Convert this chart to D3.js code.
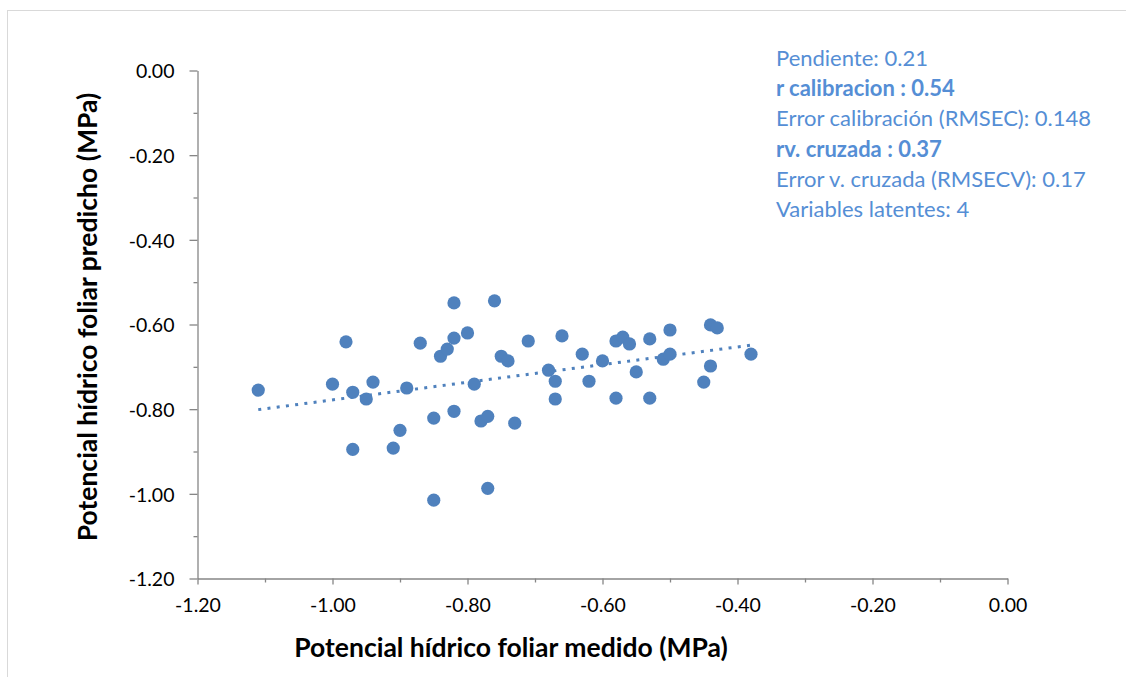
<!DOCTYPE html>
<html>
<head>
<meta charset="utf-8">
<script src="https://cdn.jsdelivr.net/npm/d3@7"></script>
<style>
  html, body { margin: 0; padding: 0; background: #fff; }
  svg { display: block; }
  text { font-family: Lato, "Open Sans", sans-serif; }
</style>
</head>
<body>
<svg id="chart" width="1126" height="677"></svg>
<script>
// Measured vs. PLS-predicted leaf water potential (MPa)
const measured = [-1.11, -1.00, -0.98, -0.97, -0.97, -0.95, -0.94, -0.91, -0.90, -0.89,
                  -0.87, -0.85, -0.85, -0.84, -0.83, -0.82, -0.82, -0.82, -0.80, -0.79,
                  -0.78, -0.77, -0.77, -0.76, -0.75, -0.74, -0.73, -0.71, -0.68, -0.67,
                  -0.67, -0.66, -0.63, -0.62, -0.60, -0.58, -0.58, -0.57, -0.56, -0.55,
                  -0.53, -0.53, -0.51, -0.50, -0.50, -0.45, -0.44, -0.44, -0.43, -0.38];
const predicted = [-0.755, -0.741, -0.641, -0.760, -0.895, -0.776, -0.736, -0.892, -0.850, -0.750,
                   -0.644, -0.821, -1.015, -0.675, -0.658, -0.549, -0.632, -0.805, -0.620, -0.741,
                   -0.828, -0.817, -0.987, -0.544, -0.675, -0.686, -0.833, -0.639, -0.708, -0.734,
                   -0.776, -0.627, -0.670, -0.734, -0.686, -0.639, -0.774, -0.630, -0.646, -0.712,
                   -0.634, -0.774, -0.682, -0.670, -0.613, -0.736, -0.698, -0.601, -0.608, -0.670];

const majorTicks = [-1.2, -1.0, -0.8, -0.6, -0.4, -0.2, 0.0];
const minorTicks = [-1.1, -0.9, -0.7, -0.5, -0.3, -0.1];
const tickLabels = ["-1.20", "-1.00", "-0.80", "-0.60", "-0.40", "-0.20", "0.00"];

const xTitle = "Potencial hídrico foliar medido (MPa)";
const yTitle = "Potencial hídrico foliar predicho (MPa)";

const statsLines = [
  { text: "Pendiente: 0.21", bold: false },
  { text: "r calibracion : 0.54", bold: true },
  { text: "Error calibración (RMSEC): 0.148", bold: false },
  { text: "rv. cruzada : 0.37", bold: true },
  { text: "Error v. cruzada (RMSECV): 0.17", bold: false },
  { text: "Variables latentes: 4", bold: false }
];

const pointColor = "#4f81bd";
const statsColor = "#558ed5";
const axisColor = "#868686";

const svg = d3.select("#chart");

// chart-area frame
svg.append("rect")
  .attr("x", 7.5).attr("y", 10.5)
  .attr("width", 1200).attr("height", 800)
  .attr("fill", "none").attr("stroke", "#d9d9d9").attr("stroke-width", 1);

const x = d3.scaleLinear().domain([-1.2, 0]).range([197.5, 1007.5]);
const y = d3.scaleLinear().domain([-1.2, 0]).range([578.5, 70.5]);

const labelOf = v => tickLabels[majorTicks.findIndex(t => Math.abs(t - v) < 1e-9)];

// x axis: minor ticks first, then major ticks with labels
const xAxisG = svg.append("g").attr("transform", `translate(0,${y(-1.2)})`);
xAxisG.call(d3.axisBottom(x).tickValues(minorTicks).tickSize(4).tickFormat(""));
xAxisG.call(g => g.select(".domain").remove());
const xMajor = svg.append("g").attr("transform", `translate(0,${y(-1.2)})`)
  .call(d3.axisBottom(x).tickValues(majorTicks).tickSize(6).tickSizeOuter(0).tickFormat(labelOf).tickPadding(14));

// y axis
const yAxisG = svg.append("g").attr("transform", `translate(${x(-1.2)},0)`);
yAxisG.call(d3.axisLeft(y).tickValues(minorTicks).tickSize(4).tickFormat(""));
yAxisG.call(g => g.select(".domain").remove());
const yMajor = svg.append("g").attr("transform", `translate(${x(-1.2)},0)`)
  .call(d3.axisLeft(y).tickValues(majorTicks).tickSize(8).tickSizeOuter(0).tickFormat(labelOf).tickPadding(15));

svg.selectAll(".domain, .tick line")
  .attr("stroke", axisColor).attr("stroke-width", 1.3);
svg.selectAll(".tick text")
  .attr("fill", "#000").style("font-size", "19.5px").style("font-family", "Lato, sans-serif");
yMajor.selectAll(".tick text").attr("dy", "0.38em");

// least-squares trend line over the measured range
const n = measured.length;
const mx = d3.mean(measured), my = d3.mean(predicted);
let sxy = 0, sxx = 0;
for (let i = 0; i < n; i++) {
  sxy += (measured[i] - mx) * (predicted[i] - my);
  sxx += (measured[i] - mx) ** 2;
}
const slope = sxy / sxx, intercept = my - slope * mx;
const [x0, x1] = d3.extent(measured);
svg.append("line")
  .attr("x1", x(x0)).attr("y1", y(intercept + slope * x0))
  .attr("x2", x(x1)).attr("y2", y(intercept + slope * x1))
  .attr("stroke", pointColor).attr("stroke-width", 3)
  .attr("stroke-dasharray", "3,6.3");

// data points
svg.append("g").selectAll("circle")
  .data(d3.range(n))
  .join("circle")
  .attr("cx", i => x(measured[i]))
  .attr("cy", i => y(predicted[i]))
  .attr("r", 6.6)
  .attr("fill", pointColor);

// axis titles
svg.append("text")
  .attr("x", 511).attr("y", 657)
  .attr("text-anchor", "middle")
  .style("font-size", "26.5px").style("font-weight", "bold")
  .attr("fill", "#000")
  .text(xTitle);

svg.append("text")
  .attr("transform", "translate(97,317) rotate(-90)")
  .attr("text-anchor", "middle")
  .style("font-size", "26.5px").style("font-weight", "bold")
  .attr("fill", "#000")
  .text(yTitle);

// model statistics
svg.append("g").selectAll("text")
  .data(statsLines)
  .join("text")
  .attr("x", 776)
  .attr("y", (d, i) => 66 + i * 30.2)
  .attr("fill", statsColor)
  .style("font-size", "22px")
  .style("font-weight", d => d.bold ? "bold" : "normal")
  .text(d => d.text);
</script>
</body>
</html>
